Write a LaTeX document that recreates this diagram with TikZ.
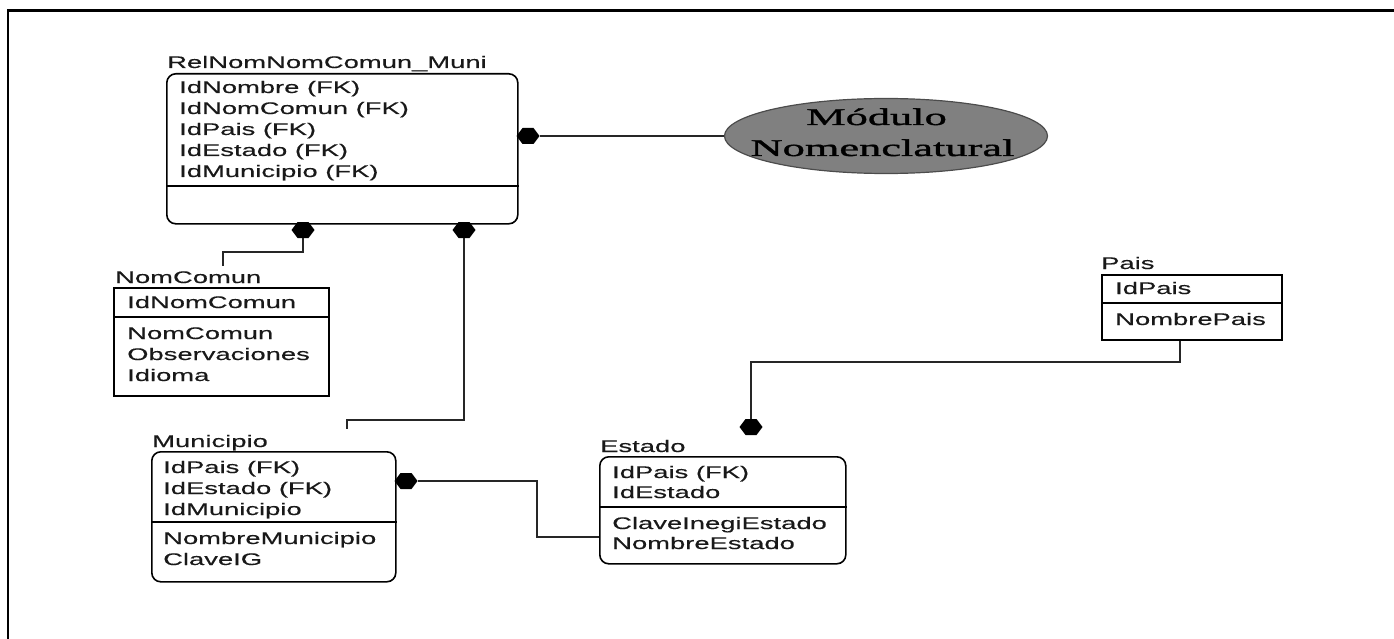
\documentclass[tikz,border=0pt]{standalone}
\usepackage{fontspec}
\setmainfont{Liberation Sans}[FakeStretch=1.63,FakeBold=0.3]
\newfontfamily\modfont{Liberation Serif}[FakeStretch=1.85,FakeBold=1.5]
\usetikzlibrary{shapes.geometric}
\definecolor{ellgray}{RGB}{128,128,128}
\begin{document}
\begin{tikzpicture}[x=1pt,y=-1pt,
  lbl/.style={anchor=base west,inner sep=0pt,font=\fontsize{16.8}{20}\selectfont,text=black!90},
  entbox/.style={draw=black,line width=1.6pt,anchor=north west,inner sep=0pt},
  roundbox/.style={entbox,rounded corners=9pt},
  divline/.style={draw=black,line width=1.6pt},
  conn/.style={draw=black!85,line width=1.6pt},
  fkdot/.style={rectangle,draw=none,minimum width=23pt,minimum height=16pt,inner sep=0pt,
    path picture={\fill[black] (path picture bounding box.west)
      -- ([xshift=6pt]path picture bounding box.north west)
      -- ([xshift=-6pt]path picture bounding box.north east)
      -- (path picture bounding box.east)
      -- ([xshift=-6pt]path picture bounding box.south east)
      -- ([xshift=6pt]path picture bounding box.south west) -- cycle;}},
  frameline/.style={draw=black,line width=2.5pt},
  modtxt/.style={anchor=base,inner sep=0pt,font=\modfont\fontsize{24}{31}\selectfont,text=black}]
\useasboundingbox (0,0) rectangle (1394,639);
% outer frame
\draw[frameline] (1394,10.5) -- (8,10.5) -- (8,639);

% RelNomNomComun_Muni
\node[roundbox,minimum width=351pt,minimum height=150pt] (rel) at (166,73) {};
\node[lbl] (relT) at (167,68) {RelNomNomComun\_Muni};
\draw[divline] (rel.west |- 0,186) -- (rel.east |- 0,186);
\node[lbl] (rel1) at (179,93) {IdNombre (FK)};
\node[lbl] (rel2) at (179,114) {IdNomComun (FK)};
\node[lbl] (rel3) at (179,135) {IdPais (FK)};
\node[lbl] (rel4) at (179,156) {IdEstado (FK)};
\node[lbl] (rel5) at (179,177) {IdMunicipio (FK)};

% Modulo ellipse
\node[ellipse,draw=black!70,line width=1.2pt,fill=ellgray,minimum width=323pt,minimum height=75pt,inner sep=0pt] (mod) at (886,136) {};
\node[modtxt] (modA) at (876.5,125) {Módulo};
\node[modtxt] (modB) at (882.5,156) {Nomenclatural};

% NomComun
\node[entbox,minimum width=215pt,minimum height=108pt] (nc) at (113,287) {};
\node[lbl] (ncT) at (115,283) {NomComun};
\draw[divline] (nc.west |- 0,317) -- (nc.east |- 0,317);
\node[lbl] (nc1) at (127,308) {IdNomComun};
\node[lbl] (nc2) at (127,339) {NomComun};
\node[lbl] (nc3) at (127,360) {Observaciones};
\node[lbl] (nc4) at (127,381) {Idioma};

% Municipio
\node[roundbox,minimum width=244pt,minimum height=130pt] (mun) at (151,451) {};
\node[lbl] (munT) at (152,447) {Municipio};
\draw[divline] (mun.west |- 0,522) -- (mun.east |- 0,522);
\node[lbl] (mun1) at (163,473) {IdPais (FK)};
\node[lbl] (mun2) at (163,494) {IdEstado (FK)};
\node[lbl] (mun3) at (163,515) {IdMunicipio};
\node[lbl] (mun4) at (163,544) {NombreMunicipio};
\node[lbl] (mun5) at (163,565) {ClaveIG};

% Estado
\node[roundbox,minimum width=246pt,minimum height=107pt] (est) at (599,456) {};
\node[lbl] (estT) at (600,452) {Estado};
\draw[divline] (est.west |- 0,507) -- (est.east |- 0,507);
\node[lbl] (est1) at (612,478) {IdPais (FK)};
\node[lbl] (est2) at (612,498) {IdEstado};
\node[lbl] (est3) at (612,529) {ClaveInegiEstado};
\node[lbl] (est4) at (612,549) {NombreEstado};

% Pais
\node[entbox,minimum width=180pt,minimum height=65pt] (pais) at (1101,274) {};
\node[lbl] (paisT) at (1101,269) {Pais};
\draw[divline] (pais.west |- 0,303) -- (pais.east |- 0,303);
\node[lbl] (pais1) at (1115,294) {IdPais};
\node[lbl] (pais2) at (1115,325) {NombrePais};

% FK markers
\node[fkdot] (dRelR) at (528,136) {};
\node[fkdot] (dRelB1) at (303,230) {};
\node[fkdot] (dRelB2) at (464,230) {};
\node[fkdot] (dMun) at (406,481) {};
\node[fkdot] (dEst) at (751,427) {};

% connectors
\draw[conn] (dRelR.east) -- (mod.west);
\coordinate (ncBend) at (223,252);
\coordinate (ncEnd) at (223,266);
\draw[conn] (dRelB1.south) |- (ncBend) -- (ncEnd);
\coordinate (muBend) at (347,420);
\coordinate (muEnd) at (347,429);
\draw[conn] (dRelB2.south) |- (muBend) -- (muEnd);
\coordinate (esBend) at (537,537);
\draw[conn] (dMun.east) -| (esBend) -- (est.west |- esBend);
\coordinate (paBend) at (1180,362);
\draw[conn] (paBend |- pais.south) -- (paBend) -| (dEst.north);
\end{tikzpicture}
\end{document}
